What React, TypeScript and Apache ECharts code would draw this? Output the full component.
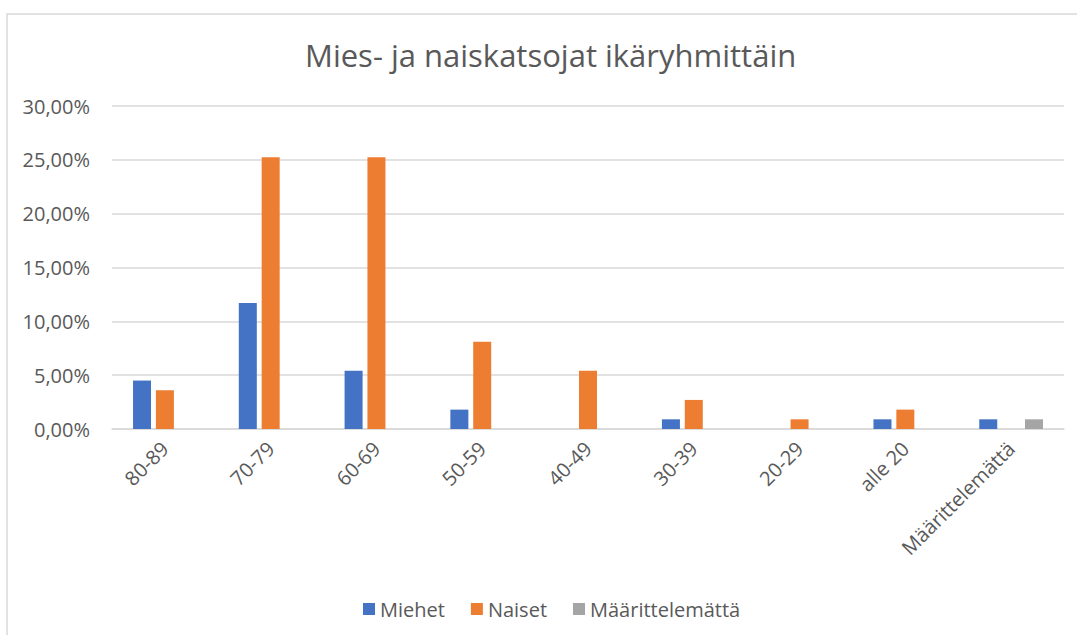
import React, { useEffect, useRef } from "react";
import * as echarts from "echarts";

const categories = ["80-89", "70-79", "60-69", "50-59", "40-49", "30-39", "20-29", "alle 20", "Määrittelemättä"];
const miehet = [4.5, 11.71, 5.41, 1.8, 0, 0.9, 0, 0.9, 0.9];
const naiset = [3.6, 25.23, 25.23, 8.11, 5.41, 2.7, 0.9, 1.8, 0];
const maarittelematta = [0, 0, 0, 0, 0, 0, 0, 0, 0.9];
const seriesNames = ["Miehet", "Naiset", "Määrittelemättä"];
const colors = ["#4472C4", "#ED7D31", "#A5A5A5"];

const FONT = "'Open Sans', sans-serif";

export default function App() {
  const ref = useRef<HTMLDivElement>(null);
  useEffect(() => {
    document.body.style.margin = "0";
    const chart = echarts.init(ref.current!, null, { renderer: "svg" });
    const datas = [miehet, naiset, maarittelematta];
    chart.setOption({
      animation: false,
      backgroundColor: "#ffffff",
      textStyle: { fontFamily: FONT },
      title: {
        text: "Mies- ja naiskatsojat ikäryhmittäin",
        left: 300,
        top: 34,
        textStyle: { fontFamily: FONT, fontSize: 31, fontWeight: "normal", color: "#595959" },
      },
      graphic: [
        {
          type: "rect",
          shape: { x: 7, y: 14, width: 1090, height: 640 },
          style: { fill: "none", stroke: "#d9d9d9", lineWidth: 1.5 },
          silent: true,
          z: -1,
        },
      ],
      legend: {
        top: 594,
        left: 358,
        itemWidth: 12,
        itemHeight: 12,
        itemGap: 26,
        icon: "rect",
        textStyle: { fontFamily: FONT, fontSize: 20, color: "#595959" },
        data: seriesNames,
      },
      grid: { left: 112, right: 13, top: 106, bottom: 206 },
      xAxis: {
        type: "category",
        data: categories,
        axisLine: { lineStyle: { color: "#d9d9d9", width: 1.5 } },
        axisTick: { show: false },
        axisLabel: { rotate: 45, color: "#595959", fontSize: 20, fontFamily: FONT, margin: 16, interval: 0 },
      },
      yAxis: {
        type: "value",
        min: 0,
        max: 30,
        interval: 5,
        axisLine: { show: false },
        axisTick: { show: false },
        splitLine: { lineStyle: { color: "#d9d9d9", width: 1.5 } },
        axisLabel: {
          color: "#595959",
          fontSize: 20,
          fontFamily: FONT,
          margin: 22,
          formatter: (v: number) => v.toFixed(2).replace(".", ",") + "%",
        },
      },
      series: seriesNames.map((name, i) => ({
        name,
        type: "bar",
        data: datas[i],
        barWidth: 18,
        barGap: "27%",
        itemStyle: { color: colors[i] },
      })),
    });
    return () => chart.dispose();
  }, []);
  return <div ref={ref} style={{ width: 1077, height: 635 }} />;
}
